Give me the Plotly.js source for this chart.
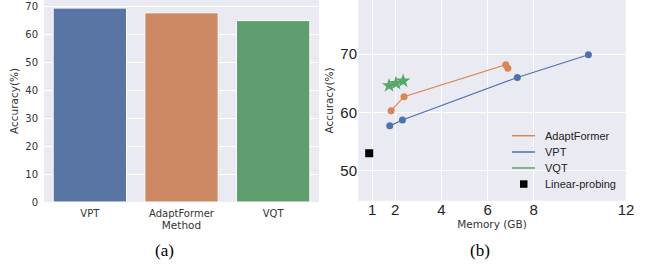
<!DOCTYPE html>
<html><head><meta charset="utf-8">
<script src="https://cdn.plot.ly/plotly-3.0.1.min.js"></script>
<style>body{margin:0;padding:0;background:#fff}#c{width:647px;height:266px}</style>
</head><body><div id="c"></div>
<script>
// (a) bar chart data
const methods = ["VPT", "AdaptFormer", "VQT"];
const barAcc = [69.6, 67.9, 65.1];
const barColors = ["#5975a4", "#cc8963", "#5f9e6e"];

// (b) memory vs accuracy
const vptMem = [1.76, 2.31, 7.29, 10.37];
const vptAcc = [57.7, 58.7, 66.0, 69.9];
const afMem = [1.82, 2.38, 6.79, 6.88];
const afAcc = [60.3, 62.7, 68.2, 67.6];
const vqtMem = [1.73, 2.03, 2.34];
const vqtAcc = [64.6, 65.0, 65.4];
const lpMem = [0.87];
const lpAcc = [53.0];
const memTicks = [1, 2, 4, 6, 8, 12];
const accTicks = [50, 60, 70];
const legendNames = ["AdaptFormer", "VPT", "VQT", "Linear-probing"];

const W = 647, H = 266;
const px = x => x / W, py = y => 1 - y / H;

const traces = [
  {type: 'bar', x: methods, y: barAcc, marker: {color: barColors, line: {color: '#ffffff', width: 1}},
   width: 0.8, xaxis: 'x', yaxis: 'y', showlegend: false, hoverinfo: 'none'},
  {type: 'scatter', mode: 'lines+markers', x: afMem, y: afAcc, xaxis: 'x2', yaxis: 'y2',
   line: {color: '#dd8452', width: 1.2}, marker: {color: '#dd8452', size: 7}, showlegend: false},
  {type: 'scatter', mode: 'lines+markers', x: vptMem, y: vptAcc, xaxis: 'x2', yaxis: 'y2',
   line: {color: '#4c72b0', width: 1.2}, marker: {color: '#4c72b0', size: 7}, showlegend: false},
  {type: 'scatter', mode: 'lines+markers', x: vqtMem, y: vqtAcc, xaxis: 'x2', yaxis: 'y2',
   line: {color: '#55a868', width: 1.2}, marker: {color: '#55a868', size: 11, symbol: 'star'}, showlegend: false},
  {type: 'scatter', mode: 'markers', x: lpMem, y: lpAcc, xaxis: 'x2', yaxis: 'y2',
   marker: {color: '#000000', size: 8, symbol: 'square'}, showlegend: false}
];

const legColors = ['#dd8452', '#4c72b0', '#55a868'];
const legY = [135.7, 152, 168, 184];
const shapes = [];
const annotations = [];
for (let i = 0; i < 3; i++) {
  shapes.push({type: 'line', xref: 'paper', yref: 'paper', x0: px(512), x1: px(535), y0: py(legY[i]), y1: py(legY[i]),
    line: {color: legColors[i], width: 1.5}});
}
shapes.push({type: 'rect', xref: 'paper', yref: 'paper', x0: px(520), x1: px(527.5), y0: py(180.3), y1: py(187.8),
  fillcolor: '#000', line: {width: 0}});
for (let i = 0; i < 4; i++) {
  annotations.push({xref: 'paper', yref: 'paper', x: px(543), y: py(legY[i]), xanchor: 'left', yanchor: 'middle',
    text: legendNames[i], showarrow: false, font: {family: 'Liberation Sans, Arial', size: 11, color: '#222'}});
}
annotations.push({xref: 'paper', yref: 'paper', x: px(165), y: py(250), xanchor: 'center', yanchor: 'middle',
  text: '(a)', showarrow: false, font: {family: 'Liberation Serif, Times New Roman', size: 17, color: '#000'}});
annotations.push({xref: 'paper', yref: 'paper', x: px(480), y: py(250), xanchor: 'center', yanchor: 'middle',
  text: '(b)', showarrow: false, font: {family: 'Liberation Serif, Times New Roman', size: 17, color: '#000'}});

const layout = {
  width: W, height: H, margin: {l: 0, r: 0, t: 0, b: 0}, paper_bgcolor: '#ffffff', plot_bgcolor: 'rgba(0,0,0,0)',
  showlegend: false, bargap: 0.2,
  shapes: [
    {type: 'rect', xref: 'paper', yref: 'paper', x0: px(44), x1: px(319), y0: py(202), y1: 1, fillcolor: '#eaeaf2', line: {width: 0}, layer: 'below'},
    {type: 'rect', xref: 'paper', yref: 'paper', x0: px(358), x1: px(626), y0: py(200.7), y1: 1, fillcolor: '#eaeaf2', line: {width: 0}, layer: 'below'}
  ].concat(shapes),
  annotations: annotations,
  xaxis: {domain: [px(44), px(319)], range: [-0.5, 2.5], showgrid: false, zeroline: false, ticks: '', ticklabelstandoff: 4,
    tickfont: {family: 'DejaVu Sans', size: 10, color: '#333'},
    title: {text: 'Method', font: {family: 'DejaVu Sans', size: 10.5, color: '#333'}, standoff: 2}, fixedrange: true},
  yaxis: {domain: [py(202), 1], range: [0, 72.5], tickvals: [0, 10, 20, 30, 40, 50, 60, 70], showgrid: true, gridcolor: '#ffffff', gridwidth: 1,
    zeroline: false, ticks: '', ticklabelstandoff: 5, tickfont: {family: 'DejaVu Sans', size: 10, color: '#333'},
    title: {text: 'Accuracy(%)', font: {family: 'DejaVu Sans', size: 10.5, color: '#333'}, standoff: 4}},
  xaxis2: {domain: [px(358), px(626)], range: [0.384, 12], tickvals: memTicks, anchor: 'y2', showgrid: true, gridcolor: '#ffffff', gridwidth: 1.2,
    zeroline: false, ticks: '', ticklabelstandoff: -2, tickfont: {family: 'Liberation Sans, Arial', size: 15, color: '#222'},
    title: {text: 'Memory (GB)', font: {family: 'DejaVu Sans', size: 10.5, color: '#333'}, standoff: 3}},
  yaxis2: {domain: [py(200.7), 1], range: [44.85, 79.3], tickvals: accTicks, anchor: 'x2', showgrid: true, gridcolor: '#ffffff', gridwidth: 1.2,
    zeroline: false, ticks: '', tickfont: {family: 'Liberation Sans, Arial', size: 15, color: '#222'},
    title: {text: 'Accuracy(%)', font: {family: 'DejaVu Sans', size: 10.5, color: '#333'}, standoff: 4}}
};

Plotly.newPlot('c', traces, layout, {staticPlot: true});
</script></body></html>
